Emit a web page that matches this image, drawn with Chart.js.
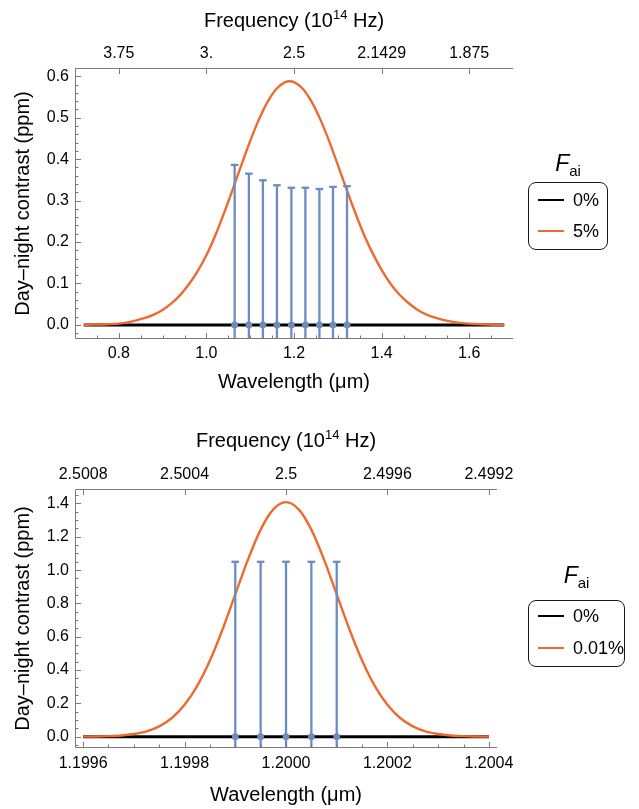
<!DOCTYPE html>
<html>
<head>
<meta charset="utf-8">
<script src="https://cdn.jsdelivr.net/npm/chart.js@4.4.1/dist/chart.umd.min.js"></script>
<style>
  body { margin: 0; background: #fff; font-family: "Liberation Sans", Arial, sans-serif; }
  #page { position: relative; width: 639px; height: 809px; overflow: hidden; }
  .wrap { position: absolute; left: 0; width: 639px; }
  .legtitle { position: absolute; text-align: center; font-size: 23px; color: #000; line-height: 1; }
  .legtitle i { font-style: italic; }
  .legtitle sub { font-size: 15px; vertical-align: -5px; }
  .legbox { position: absolute; border: 1.3px solid #1a1a1a; border-radius: 8px; box-sizing: border-box; }
  .row { position: absolute; left: 0; height: 20px; font-size: 18px; color: #000; }
  .row .ln { position: absolute; left: 9px; top: 9px; width: 26px; height: 2px; }
  .row .tx { position: absolute; left: 44px; top: 0; line-height: 20px; white-space: nowrap; }
</style>
</head>
<body>
<div id="page">
  <div class="wrap" style="top:0;height:405px"><canvas id="chartTop" width="639" height="405"></canvas></div>
  <div class="wrap" style="top:420px;height:389px"><canvas id="chartBottom" width="639" height="389"></canvas></div>

  <div class="legtitle" style="left:528px;top:152px;width:80px"><i>F</i><sub>ai</sub></div>
  <div class="legbox" style="left:528px;top:182px;width:80px;height:68px">
    <div class="row" style="top:7px"><span class="ln" style="background:#000"></span><span class="tx">0%</span></div>
    <div class="row" style="top:38px"><span class="ln" style="background:#ed6b2f"></span><span class="tx">5%</span></div>
  </div>

  <div class="legtitle" style="left:528px;top:564px;width:97px"><i>F</i><sub>ai</sub></div>
  <div class="legbox" style="left:528px;top:600px;width:97px;height:67px">
    <div class="row" style="top:5px"><span class="ln" style="background:#000"></span><span class="tx">0%</span></div>
    <div class="row" style="top:37px"><span class="ln" style="background:#ed6b2f"></span><span class="tx">0.01%</span></div>
  </div>
</div>

<script>
// ---- top panel (F_ai = 5%) ----
const topWavelength = [0.72, 0.74, 0.76, 0.78, 0.80, 0.82, 0.84, 0.86, 0.88, 0.90, 0.92, 0.94, 0.96, 0.98,
  1.00, 1.02, 1.04, 1.06, 1.08, 1.10, 1.12, 1.14, 1.16, 1.18, 1.19, 1.20, 1.22, 1.24, 1.26, 1.28, 1.30,
  1.32, 1.34, 1.36, 1.38, 1.40, 1.42, 1.44, 1.46, 1.48, 1.50, 1.52, 1.54, 1.56, 1.58, 1.60, 1.62, 1.64,
  1.66, 1.68];
const topContrast5 = [0.000, 0.001, 0.001, 0.002, 0.003, 0.006, 0.011, 0.017, 0.025, 0.036, 0.052, 0.072,
  0.098, 0.130, 0.168, 0.215, 0.269, 0.327, 0.386, 0.444, 0.496, 0.539, 0.570, 0.586, 0.588, 0.586, 0.570,
  0.539, 0.496, 0.444, 0.386, 0.327, 0.270, 0.217, 0.172, 0.133, 0.100, 0.074, 0.054, 0.038, 0.026, 0.018,
  0.012, 0.008, 0.005, 0.003, 0.002, 0.001, 0.000, 0.000];
const topBaseX = [0.72, 1.68];
const topContrast0 = [0, 0];
const topBinX = [1.0645, 1.097, 1.129, 1.161, 1.194, 1.226, 1.258, 1.289, 1.321];
const topBinErr = [0.386, 0.365, 0.349, 0.337, 0.331, 0.331, 0.328, 0.333, 0.335];
const topXTicks = [0.8, 1.0, 1.2, 1.4, 1.6];
const topFreqLabels = ["3.75", "3.", "2.5", "2.1429", "1.875"];
const topYTicks = [0.0, 0.1, 0.2, 0.3, 0.4, 0.5, 0.6];

// ---- bottom panel (F_ai = 0.01%) ----
const botWavelength = [1.1996, 1.199625, 1.19965, 1.199675, 1.1997, 1.199725, 1.19975, 1.199775, 1.1998,
  1.199825, 1.19985, 1.199875, 1.1999, 1.199925, 1.19995, 1.199975, 1.2, 1.200025, 1.20005, 1.200075,
  1.2001, 1.200125, 1.20015, 1.200175, 1.2002, 1.200225, 1.20025, 1.200275, 1.2003, 1.200325, 1.20035,
  1.200375, 1.2004];
const botContrast001 = [0.000, 0.001, 0.003, 0.007, 0.016, 0.032, 0.062, 0.112, 0.191, 0.305, 0.457, 0.645,
  0.854, 1.063, 1.243, 1.365, 1.408, 1.365, 1.243, 1.063, 0.854, 0.645, 0.457, 0.305, 0.191, 0.112, 0.062,
  0.032, 0.016, 0.007, 0.003, 0.001, 0.000];
const botBaseX = [1.1996, 1.2004];
const botContrast0 = [0, 0];
const botBinX = [1.1999, 1.19995, 1.2, 1.20005, 1.2001];
const botBinErr = [1.05, 1.05, 1.05, 1.05, 1.05];
const botXTicks = [1.1996, 1.1998, 1.2, 1.2002, 1.2004];
const botFreqLabels = ["2.5008", "2.5004", "2.5", "2.4996", "2.4992"];
const botYTicks = [0.0, 0.2, 0.4, 0.6, 0.8, 1.0, 1.2, 1.4];

const ORANGE = "#ed6b2f";
const BLUE = "#6d8cc0";
const FONT = "'Liberation Sans', Arial, sans-serif";

Chart.defaults.font.family = FONT;

// frame (left, bottom, top) with inward ticks, like Mathematica
const framePlugin = {
  id: "frame",
  afterDatasetsDraw(chart, args, opts) {
    const { ctx, chartArea: a, scales } = chart;
    const x = scales.x, y = scales.y;
    ctx.save();
    ctx.strokeStyle = "#7a7a7a";
    ctx.lineWidth = 1;
    ctx.beginPath();
    ctx.moveTo(a.right, a.top + 0.5);
    ctx.lineTo(a.left + 0.5, a.top + 0.5);
    ctx.lineTo(a.left + 0.5, a.bottom - 0.5);
    ctx.lineTo(a.right, a.bottom - 0.5);
    ctx.stroke();
    ctx.beginPath();
    opts.xMajor.forEach(v => {
      const px = Math.round(x.getPixelForValue(v)) + 0.5;
      ctx.moveTo(px, a.bottom); ctx.lineTo(px, a.bottom - 6);
      ctx.moveTo(px, a.top); ctx.lineTo(px, a.top + 6);
    });
    opts.xMinor.forEach(v => {
      const px = Math.round(x.getPixelForValue(v)) + 0.5;
      ctx.moveTo(px, a.bottom); ctx.lineTo(px, a.bottom - 3.5);
    });
    opts.yMajor.forEach(v => {
      const py = Math.round(y.getPixelForValue(v)) + 0.5;
      ctx.moveTo(a.left, py); ctx.lineTo(a.left + 6, py);
    });
    opts.yMinor.forEach(v => {
      const py = Math.round(y.getPixelForValue(v)) + 0.5;
      if (py > a.top && py < a.bottom) { ctx.moveTo(a.left, py); ctx.lineTo(a.left + 3.5, py); }
    });
    ctx.stroke();
    ctx.restore();
  }
};

// "Frequency (10^14 Hz)" with a real superscript
const freqTitlePlugin = {
  id: "freqTitle",
  afterDraw(chart) {
    const { ctx, chartArea: a } = chart;
    const p1 = "Frequency (10", sup = "14", p3 = " Hz)";
    ctx.save();
    ctx.fillStyle = "#000";
    ctx.textBaseline = "alphabetic";
    ctx.font = "20px " + FONT;
    const w1 = ctx.measureText(p1).width, w3 = ctx.measureText(p3).width;
    ctx.font = "13px " + FONT;
    const w2 = ctx.measureText(sup).width;
    let xx = (a.left + a.right) / 2 - (w1 + w2 + w3) / 2;
    const base = 27;
    ctx.font = "20px " + FONT;
    ctx.fillText(p1, xx, base); xx += w1;
    ctx.font = "13px " + FONT;
    ctx.fillText(sup, xx, base - 8); xx += w2;
    ctx.font = "20px " + FONT;
    ctx.fillText(p3, xx, base);
    ctx.restore();
  }
};

function steps(from, to, step) {
  const out = [];
  for (let v = from; v <= to + step / 10; v += step) out.push(+v.toFixed(6));
  return out;
}

function makePanel(id, p) {
  const pts = (xs, ys) => xs.map((v, i) => ({ x: v, y: ys[i] }));
  const datasets = [];
  // error bars of the binned measurement, one little line per bin
  p.binX.forEach((bx, i) => {
    datasets.push({
      data: [{ x: bx, y: -p.binErr[i] }, { x: bx, y: p.binErr[i] }],
      showLine: true, borderColor: BLUE, borderWidth: 2.3,
      pointStyle: "line", pointBorderColor: BLUE, pointBorderWidth: 2.3,
      pointRadius: ctx => (ctx.dataIndex === 1 ? 3.8 : 0),
      clip: 0, order: 0
    });
  });
  datasets.push({
    data: p.binX.map(bx => ({ x: bx, y: 0 })),
    showLine: false, pointRadius: 3.4, pointBackgroundColor: BLUE, pointBorderWidth: 0, order: 0
  });
  datasets.push({
    label: p.label, data: pts(p.lineX, p.lineY), showLine: true,
    borderColor: ORANGE, borderWidth: 2.4, pointRadius: 0,
    cubicInterpolationMode: "monotone", order: 1
  });
  datasets.push({
    label: "0%", data: pts(p.baseX, p.baseY), showLine: true,
    borderColor: "#000", borderWidth: 3, pointRadius: 0, order: 2
  });

  return new Chart(document.getElementById(id), {
    type: "scatter",
    data: { datasets },
    options: {
      responsive: false, animation: false, devicePixelRatio: 1,
      layout: { padding: { left: 0, right: p.padRight, top: 0, bottom: 0 } },
      plugins: {
        legend: { display: false }, tooltip: { enabled: false },
        frame: { xMajor: p.xTicks, xMinor: p.xMinor, yMajor: p.yTicks, yMinor: p.yMinor }
      },
      scales: {
        x: {
          type: "linear", position: "bottom", min: p.xMin, max: p.xMax,
          afterBuildTicks: s => { s.ticks = p.xTicks.map(v => ({ value: v })); },
          afterFit: s => { s.height = p.xHeight; },
          ticks: { callback: v => v.toFixed(p.xDec), color: "#000", font: { size: 16 }, padding: p.xPad, maxRotation: 0, autoSkip: false },
          grid: { display: false, drawTicks: false }, border: { display: false },
          title: { display: true, text: "Wavelength (μm)", color: "#000", font: { size: 20 }, padding: { top: 0, bottom: p.xTitlePad } }
        },
        x2: {
          type: "linear", position: "top", min: p.xMin, max: p.xMax,
          afterBuildTicks: s => { s.ticks = p.xTicks.map(v => ({ value: v })); },
          afterFit: s => { s.height = p.topHeight; },
          ticks: { callback: (v, i) => p.freqLabels[i], color: "#000", font: { size: 16 }, padding: 5, maxRotation: 0, autoSkip: false },
          grid: { display: false, drawTicks: false }, border: { display: false }
        },
        y: {
          type: "linear", position: "left", min: p.yMin, max: p.yMax,
          afterBuildTicks: s => { s.ticks = p.yTicks.map(v => ({ value: v })); },
          afterFit: s => { s.width = 75; },
          ticks: { callback: v => v.toFixed(1), color: "#000", font: { size: 16 }, padding: 6 },
          grid: { display: false, drawTicks: false }, border: { display: false },
          title: { display: true, text: "Day\u2013night contrast (ppm)", color: "#000", font: { size: 20 }, padding: { top: 11, bottom: 0 } }
        }
      }
    },
    plugins: [framePlugin, freqTitlePlugin]
  });
}

makePanel("chartTop", {
  label: "5%", lineX: topWavelength, lineY: topContrast5, baseX: topBaseX, baseY: topContrast0,
  binX: topBinX, binErr: topBinErr, xTicks: topXTicks, freqLabels: topFreqLabels, yTicks: topYTicks,
  xMinor: steps(0.75, 1.65, 0.05), yMinor: steps(-0.02, 0.62, 0.02),
  xMin: 0.7, xMax: 1.7, yMin: -0.034, yMax: 0.62, xDec: 1,
  padRight: 126, xHeight: 66, topHeight: 68, xPad: 5, xTitlePad: 11
});

makePanel("chartBottom", {
  label: "0.01%", lineX: botWavelength, lineY: botContrast001, baseX: botBaseX, baseY: botContrast0,
  binX: botBinX, binErr: botBinErr, xTicks: botXTicks, freqLabels: botFreqLabels, yTicks: botYTicks,
  xMinor: steps(1.19960, 1.20040, 0.00005), yMinor: steps(-0.05, 1.45, 0.05),
  xMin: 1.199584, xMax: 1.200416, yMin: -0.068, yMax: 1.487, xDec: 4,
  padRight: 142, xHeight: 61, topHeight: 69, xPad: 6, xTitlePad: 2
});
</script>
</body>
</html>
